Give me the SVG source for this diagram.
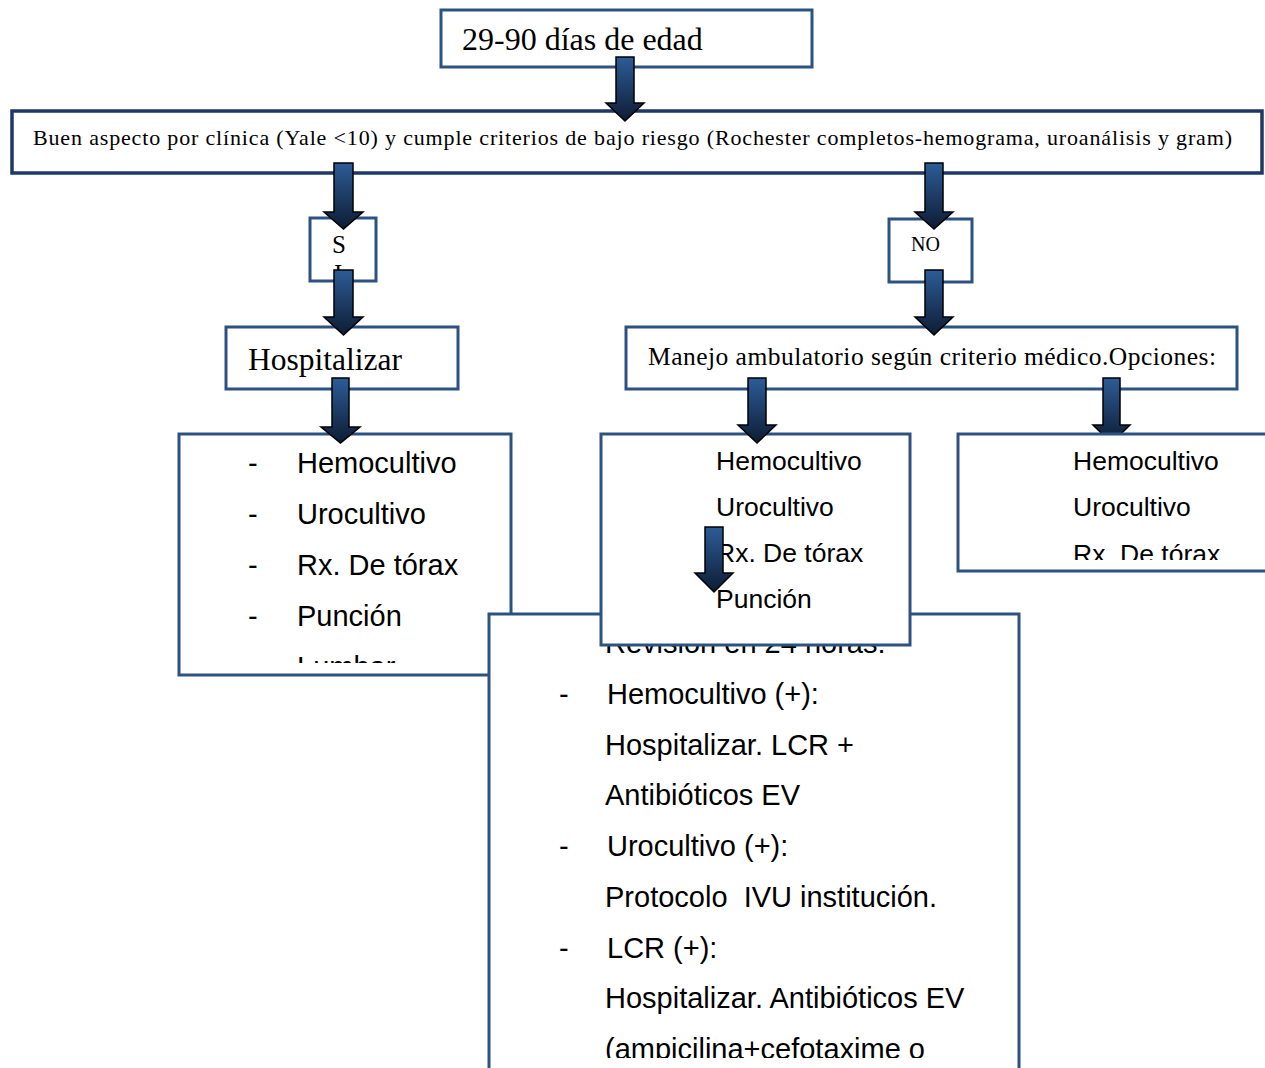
<svg xmlns="http://www.w3.org/2000/svg" width="1265" height="1068" viewBox="0 0 1265 1068">
<style>
.box{fill:#ffffff;stroke:#2C5282;stroke-width:3}
.box2{fill:#ffffff;stroke:#1F3864;stroke-width:3.5}
.tr{font-family:"Liberation Serif","Times New Roman",serif;fill:#000}
.ar{font-family:"Liberation Sans",Arial,sans-serif;fill:#000}
.arrow{fill:url(#ag);stroke:#000;stroke-width:1.5;stroke-linejoin:miter}
</style>
<defs>
<linearGradient id="ag" x1="0" y1="0" x2="0" y2="1">
<stop offset="0" stop-color="#2D5C97"/>
<stop offset="1" stop-color="#0D1C34"/>
</linearGradient>
<clipPath id="cSI"><rect x="311" y="219" width="64" height="52"/></clipPath>
<clipPath id="cLeft"><rect x="180" y="435" width="330" height="228"/></clipPath>
<clipPath id="cRight"><rect x="959" y="435" width="306" height="125"/></clipPath>
<clipPath id="cBig"><rect x="490" y="615" width="528" height="443"/></clipPath>
</defs>

<g id="n-edad">
<rect class="box" x="441" y="10" width="371" height="57"/>
<text class="tr" x="462" y="50" font-size="32">29-90 días de edad</text>
</g>

<g id="n-criterios">
<rect class="box2" x="12" y="111" width="1250" height="62"/>
<text class="tr" x="33" y="145" font-size="22" textLength="1199" lengthAdjust="spacing">Buen aspecto por clínica (Yale &lt;10) y cumple criterios de bajo riesgo (Rochester completos-hemograma, uroanálisis y gram)</text>
</g>

<g id="n-si">
<rect class="box" x="310" y="218" width="66" height="63"/>
<g clip-path="url(#cSI)">
<text class="tr" x="332" y="253" font-size="25">S</text>
<text class="tr" x="334" y="282" font-size="25">I</text>
</g>
</g>

<g id="n-no">
<rect class="box" x="889" y="219" width="83" height="63"/>
<text class="tr" x="911" y="251" font-size="20">NO</text>
</g>

<g id="n-hosp">
<rect class="box" x="226" y="327" width="232" height="62"/>
<text class="tr" x="248" y="370" font-size="31.5">Hospitalizar</text>
</g>

<g id="n-manejo">
<rect class="box" x="626" y="327" width="611" height="62"/>
<text class="tr" x="648" y="365" font-size="25.5" textLength="568" lengthAdjust="spacing">Manejo ambulatorio según criterio médico.Opciones:</text>
</g>

<g id="n-hosp-estudios">
<rect class="box" x="179" y="434" width="332" height="241"/>
<g clip-path="url(#cLeft)" font-size="29">
<text class="ar" x="248" y="473">-</text><text class="ar" x="297" y="473">Hemocultivo</text>
<text class="ar" x="248" y="524">-</text><text class="ar" x="297" y="524">Urocultivo</text>
<text class="ar" x="248" y="575">-</text><text class="ar" x="297" y="575">Rx. De tórax</text>
<text class="ar" x="248" y="626">-</text><text class="ar" x="297" y="626">Punción</text>
<text class="ar" x="297" y="677">Lumbar</text>
</g>
</g>

<g id="n-revision">
<rect class="box" x="489" y="614" width="530" height="470"/>
<g clip-path="url(#cBig)" font-size="29">
<text class="ar" x="605" y="653">Revisión en 24 horas:</text>
<text class="ar" x="559" y="704">-</text><text class="ar" x="607" y="704">Hemocultivo (+):</text>
<text class="ar" x="605" y="755">Hospitalizar. LCR +</text>
<text class="ar" x="605" y="805">Antibióticos EV</text>
<text class="ar" x="559" y="856">-</text><text class="ar" x="607" y="856">Urocultivo (+):</text>
<text class="ar" x="605" y="907" xml:space="preserve">Protocolo  IVU institución.</text>
<text class="ar" x="559" y="958">-</text><text class="ar" x="607" y="958">LCR (+):</text>
<text class="ar" x="605" y="1008">Hospitalizar. Antibióticos EV</text>
<text class="ar" x="605" y="1059">(ampicilina+cefotaxime o</text>
</g>
</g>

<g id="n-opcion1">
<rect class="box" x="601" y="434" width="309" height="211"/>
<g font-size="26.5">
<text class="ar" x="716" y="470">Hemocultivo</text>
<text class="ar" x="716" y="516">Urocultivo</text>
<text class="ar" x="716" y="562">Rx. De tórax</text>
<text class="ar" x="716" y="608">Punción</text>
</g>
</g>

<g id="connectors">
<path class="arrow" d="M616,57 H634 V103 H644 L625,121 L606,103 H616 Z"/>
<path class="arrow" d="M334,163 H353 V212 H363 L343.5,229 L324,212 H334 Z"/>
<path class="arrow" d="M334,270 H353 V317 H363 L343.5,335 L324,317 H334 Z"/>
<path class="arrow" d="M925,163 H943 V212 H953 L934,229 L915,212 H925 Z"/>
<path class="arrow" d="M925,270 H943 V317 H953 L934,335 L915,317 H925 Z"/>
<path class="arrow" d="M332,378 H349 V427 H360 L340.5,443 L321,427 H332 Z"/>
<path class="arrow" d="M748,378 H766 V425 H776 L757,443 L738,425 H748 Z"/>
<path class="arrow" d="M1103,378 H1120 V425 H1130 L1111.5,443 L1093,425 H1103 Z"/>
<path class="arrow" d="M705,527 H723 V573 H733 L714,592 L695,573 H705 Z"/>
</g>

<g id="n-opcion2">
<rect class="box" x="958" y="434" width="310" height="137"/>
<g clip-path="url(#cRight)" font-size="26.5">
<text class="ar" x="1073" y="470">Hemocultivo</text>
<text class="ar" x="1073" y="516">Urocultivo</text>
<text class="ar" x="1073" y="563">Rx. De tórax</text>
</g>
</g>
</svg>
